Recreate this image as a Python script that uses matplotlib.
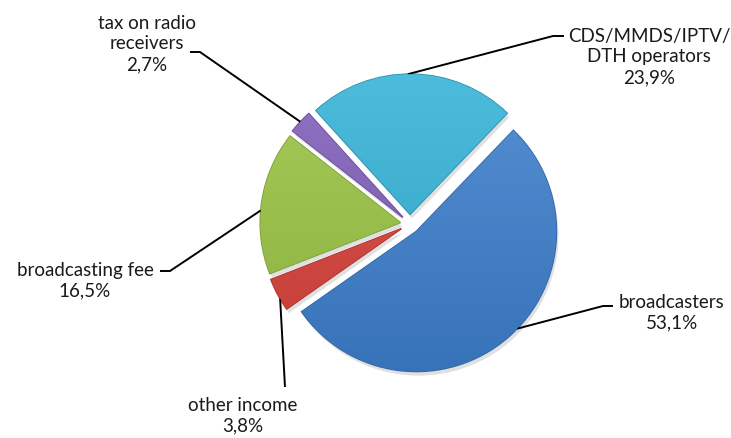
import numpy as np
import matplotlib
matplotlib.use("Agg")
import matplotlib.pyplot as plt
import matplotlib.colors as mcolors

# data (drawn ccw starting at the bottom-left edge of "broadcasters")
labels = ["broadcasters", "CDS/MMDS/IPTV/\nDTH operators", "tax on radio\nreceivers",
          "broadcasting fee", "other income"]
values = [53.1, 23.9, 2.7, 16.5, 3.8]
value_text = ["53,1%", "23,9%", "2,7%", "16,5%", "3,8%"]
colors = ["#3d7fcd", "#36b4d8", "#8260bc", "#9bc444", "#d8413a"]

# pixel geometry of the picture
W, H = 731, 439
CX, CY, R = 410, 225, 140


def px(x, y):
    # pixel position -> data units (pie radius = 1)
    return (x - CX) / R, (CY - y) / R


plt.rcParams["font.family"] = ["Lato", "DejaVu Sans"]
fig = plt.figure(figsize=(W / 100, H / 100), dpi=100)
ax = fig.add_axes([0, 0, 1, 1])

wedges, _ = ax.pie(values, colors=colors, startangle=-145, counterclock=True,
                   explode=[0.07] * len(values), radius=1, frame=True)

# soft shading: slightly lighter top -> slightly darker bottom, clipped to each wedge
grad = np.linspace(0, 1, 256).reshape(-1, 1)
for w, c in zip(wedges, colors):
    base = np.array(mcolors.to_rgb(c))
    light = base + (1 - base) * 0.12
    dark = base * 0.9
    img = light[None, None, :] * (1 - grad[:, :, None]) + dark[None, None, :] * grad[:, :, None]
    cx, cy = w.center
    im = ax.imshow(img, extent=(cx - 1.05, cx + 1.05, cy - 1.05, cy + 1.05),
                   origin="upper", aspect="auto", zorder=w.get_zorder() + 0.1)
    im.set_clip_path(w)
    w.set_edgecolor(tuple(base * 0.8))
    w.set_linewidth(1.2)
    # drop shadow
    sh = matplotlib.patches.Wedge((cx + 0.015, cy - 0.03), 1, w.theta1, w.theta2,
                                  facecolor="#000000", alpha=0.12, edgecolor="none",
                                  zorder=w.get_zorder() - 0.5)
    ax.add_patch(sh)
ax.set_xlim(-CX / R, (W - CX) / R)
ax.set_ylim(-(H - CY) / R, CY / R)
ax.axis("off")

# label layout: anchor angle on the arc, elbow + end of leader (px), text centre (px)
anchor_ang = [-44, 91, 137, 175, 210]
elbows = [[(603, 307), (613, 307)], [(553, 37), (564, 37)], [(200, 53), (190, 53)],
          [(170, 272), (160, 272)], [(285, 388)]]
text_pos = [(672, 313), (649, 57), (147, 44), (85, 281), (243, 416)]

for w, a, el, tp, lab, vt in zip(wedges, anchor_ang, elbows, text_pos, labels, value_text):
    cx, cy = w.center
    t = np.deg2rad(a)
    xs = [cx + np.cos(t)]
    ys = [cy + np.sin(t)]
    for p in el:
        dx, dy = px(*p)
        xs.append(dx)
        ys.append(dy)
    ax.plot(xs, ys, color="black", lw=1.4, zorder=1, solid_capstyle="butt")
    tx, ty = px(*tp)
    ax.text(tx, ty, lab + "\n" + vt, ha="center", va="center", fontsize=13.5,
            linespacing=1.25, color="#1a1a1a")

fig.savefig("out.png", dpi=100)
